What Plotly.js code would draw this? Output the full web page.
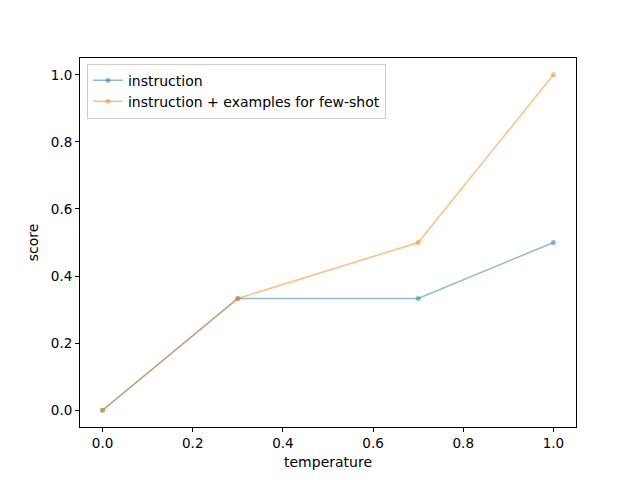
<!DOCTYPE html>
<html>
<head>
<meta charset="utf-8">
<script src="https://cdn.plot.ly/plotly-3.0.1.min.js"></script>
<style>
  html, body { margin: 0; padding: 0; background: #fff; }
  #chart { width: 640px; height: 480px; }
</style>
</head>
<body>
<div id="chart"></div>
<script>
// temperature vs score
let temperature = [0.0, 0.3, 0.7, 1.0];
let instructionScore = [0.0, 0.3333, 0.3333, 0.5];
let fewShotScore = [0.0, 0.3333, 0.5, 1.0];

let tickVals = [0.0, 0.2, 0.4, 0.6, 0.8, 1.0];
let tickText = ['0.0', '0.2', '0.4', '0.6', '0.8', '1.0'];

let traces = [
    {
        x: temperature,
        y: instructionScore,
        name: 'instruction',
        mode: 'lines+markers',
        line: { color: 'rgba(31,119,180,0.5)', width: 1.5 },
        marker: { color: 'rgba(31,119,180,0.5)', size: 5 }
    },
    {
        x: temperature,
        y: fewShotScore,
        name: 'instruction + examples for few-shot',
        mode: 'lines+markers',
        line: { color: 'rgba(255,127,14,0.5)', width: 1.5 },
        marker: { color: 'rgba(255,127,14,0.5)', size: 5 }
    }
];

let axisStyle = {
    showgrid: false,
    zeroline: false,
    showline: true,
    linecolor: '#000',
    linewidth: 1,
    mirror: true,
    ticks: 'outside',
    ticklen: 4,
    tickcolor: '#000',
    tickwidth: 1,
    tickvals: tickVals,
    ticktext: tickText,
    tickfont: { size: 13.5, color: '#000' }
};

let layout = {
    width: 640,
    height: 480,
    paper_bgcolor: '#fff',
    plot_bgcolor: '#fff',
    font: { family: 'DejaVu Sans, sans-serif', size: 14, color: '#000' },
    margin: { l: 80, r: 64, t: 58, b: 53 },
    showlegend: true,
    legend: {
        x: 0.014,
        y: 0.985,
        xanchor: 'left',
        yanchor: 'top',
        bgcolor: 'rgba(255,255,255,0.8)',
        bordercolor: '#cccccc',
        borderwidth: 1,
        font: { size: 14 },
        tracegroupgap: 0
    },
    xaxis: Object.assign({}, axisStyle, {
        range: [-0.05, 1.05],
        title: { text: 'temperature', font: { size: 14 }, standoff: 6 }
    }),
    yaxis: Object.assign({}, axisStyle, {
        range: [-0.05, 1.05],
        title: { text: 'score', font: { size: 14 }, standoff: 8 }
    })
};

Plotly.newPlot('chart', traces, layout, { displayModeBar: false, staticPlot: true });
</script>
</body>
</html>
